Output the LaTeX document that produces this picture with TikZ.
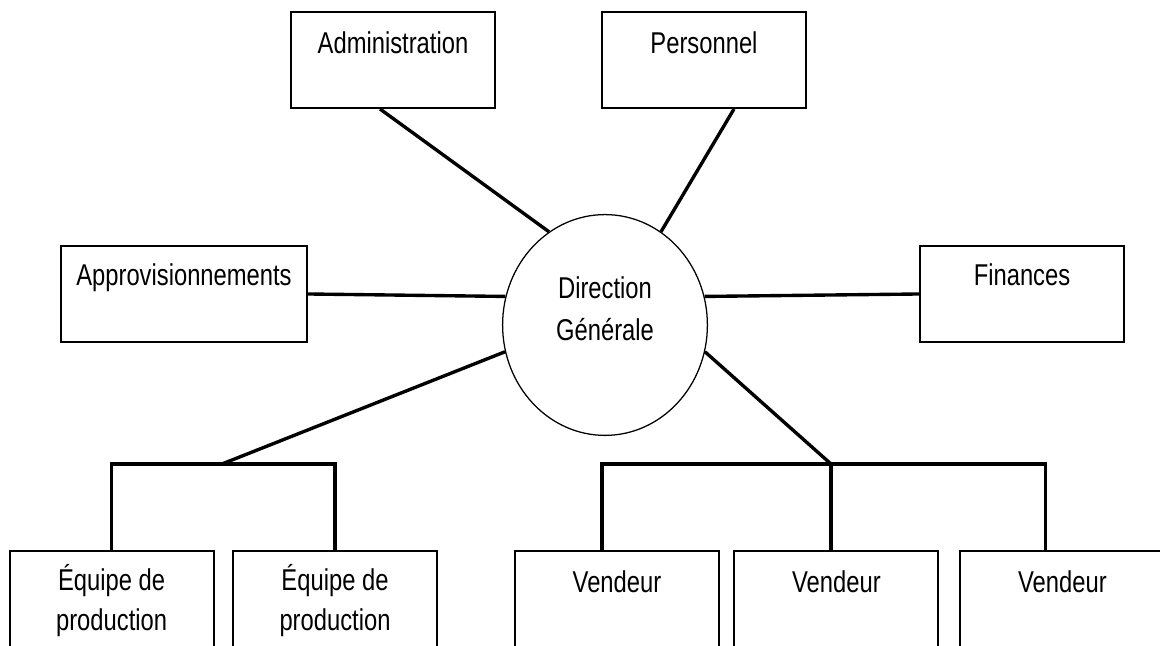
\documentclass[tikz,border=0pt]{standalone}
\usepackage{fontspec}
\setmainfont{Liberation Sans}[FakeStretch=0.79]
\usetikzlibrary{shapes.geometric}

\begin{document}
\begin{tikzpicture}[
  box/.style={draw,line width=1.4pt,minimum width=5.1cm,minimum height=2.4cm,inner sep=0pt},
  lbl/.style={anchor=north,inner sep=0pt,yshift=-0.5cm,align=center,
    font=\fontsize{21.4pt}{28.5pt}\selectfont},
  link/.style={line width=2.4pt}]
\useasboundingbox (0,0) rectangle (29,16.15);
\clip (0,0) rectangle (29,16.15);
\node[draw,ellipse,line width=0.9pt,minimum width=5.12cm,minimum height=5.52cm,
  label={[lbl,yshift=0.9cm,font=\fontsize{21.4pt}{29.6pt}\selectfont]center:Direction\\Générale}] (dir) at (15.125,8.025) {};
\node[box,label={[lbl,yshift=-0.02cm]north:Administration}] (adm) at (9.825,14.65) {};
\node[box,label={[lbl]north:Personnel}] (per) at (17.6,14.65) {};
\node[box,minimum width=6.15cm,label={[lbl,yshift=0.04cm]north:Approvisionnements}] (app) at (4.6,8.8) {};
\node[box,label={[lbl,yshift=0.04cm]north:Finances}] (fin) at (25.55,8.8) {};
\node[box,label={[lbl,yshift=0.15cm]north:Équipe de\\production}] (eq1) at (2.79,1.175) {};
\node[box,label={[lbl,yshift=0.15cm]north:Équipe de\\production}] (eq2) at (8.375,1.175) {};
\node[box,label={[lbl]north:Vendeur}] (v1) at (15.425,1.175) {};
\node[box,label={[lbl]north:Vendeur}] (v2) at (20.91,1.175) {};
\node[box,label={[lbl]north:Vendeur}] (v3) at (26.56,1.175) {};
\coordinate (eq) at (5.55,4.55);
\coordinate (vj) at (20.775,4.55);
\draw[link] ([xshift=-0.325cm]adm.south) -- (dir.121);
\draw[link] ([xshift=0.75cm]per.south) -- (dir.59);
\draw[link] (app.east) -- (dir.164);
\draw[link] (fin.west) -- (dir.16);
\draw[link] (dir.195) -- (eq);
\draw[link] (eq1.north) |- (eq) -| (eq2.north);
\draw[link] (dir.345) -- (vj);
\draw[link] ([xshift=-0.375cm]v1.north) |- (vj) -| ([xshift=-0.43cm]v3.north);
\draw[link] (vj) -- (vj |- v2.north);
\end{tikzpicture}
\end{document}
